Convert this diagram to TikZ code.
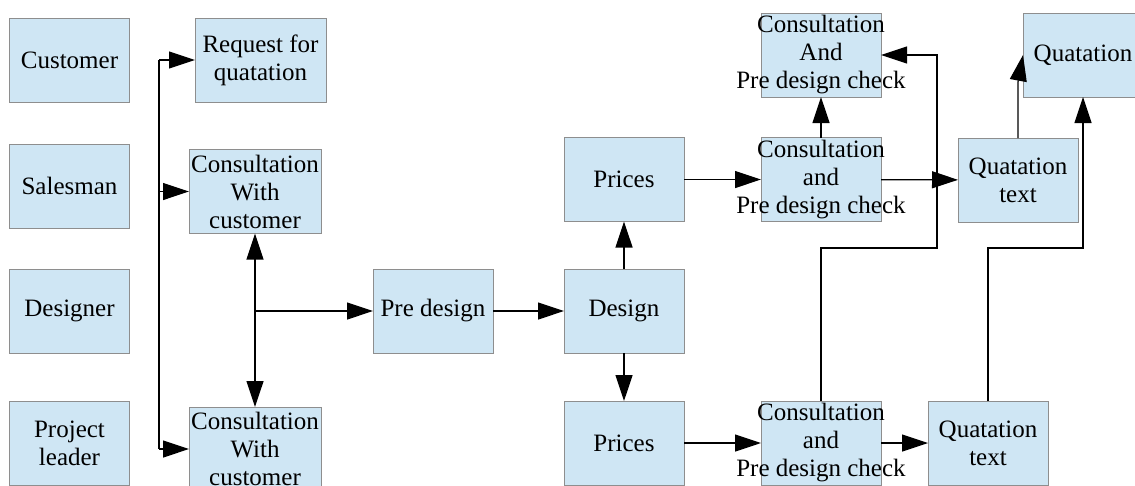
\documentclass[tikz,border=0pt]{standalone}
\usepackage{fontspec}
\setmainfont{Liberation Serif}
\newfontfamily\tms{Liberation Serif}
\usetikzlibrary{arrows.meta}
\definecolor{boxfill}{HTML}{CFE6F4}
\definecolor{boxline}{HTML}{8E8E8E}
\begin{document}
\begin{tikzpicture}[x=1pt,y=-1pt,
  box/.style={draw=boxline, line width=1pt, fill=boxfill, minimum width=120pt, minimum height=84pt, inner sep=0pt, outer sep=0pt},
  wbox/.style={box, minimum width=132pt},
  txt/.style={font=\tms\fontsize{25}{28}\selectfont, align=center, inner sep=0pt},
  plain/.style={draw=black, line width=1.2pt},
  conn/.style={plain, -{Triangle[length=26pt,width=17pt]}},
  dconn/.style={plain, {Triangle[length=26pt,width=17pt]}-{Triangle[length=26pt,width=17pt]}}]
\useasboundingbox (0,0) rectangle (1135,485);
% boxes
\node[box] (cust) at (69.5,60) {};
\node[box] (sales) at (69.5,186) {};
\node[box] (des) at (69.5,311) {};
\node[box] (pl) at (69.5,443) {};
\node[wbox, minimum width=131pt] (req) at (260.5,60) {};
\node[wbox] (cwc1) at (255,191.5) {};
\node[wbox] (cwc2) at (255,449) {};
\node[box] (pre) at (433,311) {};
\node[box] (design) at (624,311) {};
\node[box] (pr1) at (624,179.5) {};
\node[box] (pr2) at (624,443) {};
\node[box] (cpd0) at (821,55) {};
\node[box] (cpd1) at (821,179.5) {};
\node[box] (cpd2) at (821,443) {};
\node[box] (qt1) at (1018,180) {};
\node[box] (quat) at (1083,55) {};
\node[box] (qt2) at (988,443) {};
% connectors
\coordinate (lt) at (159,60);
\coordinate (lb) at (159,449);
\coordinate (j) at (255,311);
\coordinate (r1) at (937,248);
\coordinate (r2) at (1083,248);
\coordinate (qbend) at (1018,82);
\draw[plain] (lt) -- (lb);
\draw[conn] (lt) -- (req.west);
\draw[conn] (lt |- cwc1.west) -- (cwc1.west);
\draw[conn] (lb) -- (cwc2.west);
\draw[dconn] (cwc1.south) -- (cwc2.north);
\draw[conn] (j) -- (pre.west);
\draw[conn] (pre) -- (design);
\draw[conn] (design) -- (pr1);
\draw[conn] (design) -- (pr2);
\draw[conn] (pr1) -- (cpd1);
\draw[conn] (cpd1) -- (cpd0);
\draw[conn] (cpd1) -- (qt1);
\draw[conn] (cpd2.north) |- (r1) |- (cpd0.east);
\draw[conn] (pr2) -- (cpd2);
\draw[conn] (cpd2) -- (qt2);
\draw[conn] (qt1.north) -- (qbend) -- (quat.west);
\draw[conn] (qt2.north) |- (r2) -- (quat.south);
% texts
\node[txt] at (cust) {Customer};
\node[txt] at (sales) {Salesman};
\node[txt] at (des) {Designer};
\node[txt] at (pl) {Project\\leader};
\node[txt] at (req) {Request for\\quatation};
\node[txt] at (cwc1) {Consultation\\With\\customer};
\node[txt] at (cwc2) {Consultation\\With\\customer};
\node[txt] at (pre) {Pre design};
\node[txt] at (design) {Design};
\node[txt] at (pr1) {Prices};
\node[txt] at (pr2) {Prices};
\node[txt] at (cpd0) {Consultation\\And\\Pre design check};
\node[txt] at (cpd1) {Consultation\\and\\Pre design check};
\node[txt] at (cpd2) {Consultation\\and\\Pre design check};
\node[txt] at (qt1) {Quatation\\text};
\node[txt] at (quat) {Quatation};
\node[txt] at (qt2) {Quatation\\text};
\end{tikzpicture}
\end{document}
